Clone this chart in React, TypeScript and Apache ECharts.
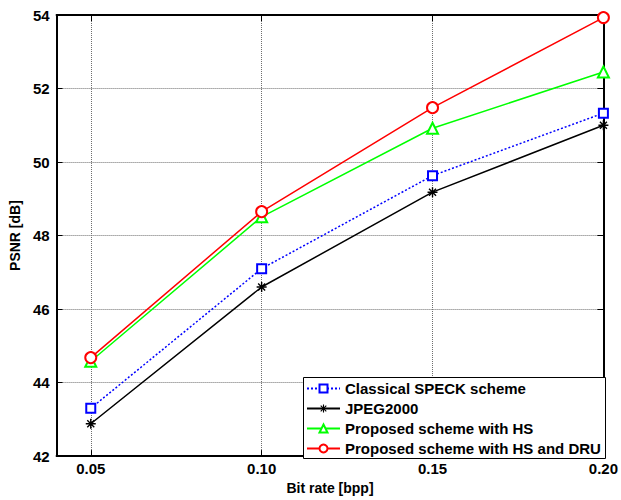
import React, { useEffect, useRef } from "react";
import * as echarts from "echarts";

// Bit rate (bpp) at which each codec was evaluated
const bitRates = [0.05, 0.1, 0.15, 0.2];
const xTickValues = [0.05, 0.1, 0.15, 0.2];

// PSNR (dB) per scheme
const speckPsnr = [43.3, 47.1, 49.63, 51.33];
const jpeg2000Psnr = [42.88, 46.6, 49.18, 51.0];
const hsPsnr = [44.58, 48.51, 50.92, 52.45];
const hsDruPsnr = [44.68, 48.65, 51.48, 53.93];

const seriesNames = [
  "Classical SPECK scheme",
  "JPEG2000",
  "Proposed scheme with HS",
  "Proposed scheme with HS and DRU",
];

// asterisk marker built from four thin bars
const ASTERISK =
  "path://M4.3 0H5.7V10H4.3Z M0 4.3H10V5.7H0Z M1.99 1.01L8.99 8.01L8.01 8.99L1.01 1.99Z M8.99 1.99L1.99 8.99L1.01 8.01L8.01 1.01Z";

const FONT = "Liberation Sans, Arial, sans-serif";

const pairs = (ys: number[]) => bitRates.map((x, i) => [x, ys[i]]);

export default function App() {
  const ref = useRef<HTMLDivElement>(null);

  useEffect(() => {
    if (!ref.current) return;
    const chart = echarts.init(ref.current, null, { renderer: "svg" });

    const gridLine = { show: true, lineStyle: { color: "#6e6e6e", width: 1, type: [1, 1] as any } };
    const boxLine = { show: true, onZero: false, lineStyle: { color: "#000", width: 2 } };
    const tickIn = { show: true, inside: true, length: 6, lineStyle: { color: "#000", width: 1 } };
    const boldText = { color: "#000", fontFamily: FONT, fontWeight: "bold" as const, fontSize: 15 };

    chart.setOption({
      animation: false,
      backgroundColor: "#fff",
      grid: { left: 51, right: 15, top: 15, bottom: 40, containLabel: false },
      xAxis: [
        {
          type: "value",
          min: 0.04,
          max: 0.2,
          position: "bottom",
          axisLine: boxLine,
          axisTick: { ...tickIn, customValues: xTickValues },
          axisLabel: {
            ...boldText,
            customValues: xTickValues,
            formatter: (v: number) => v.toFixed(2),
            margin: 5,
          },
          splitLine: gridLine,
          name: "Bit rate [bpp]",
          nameLocation: "middle",
          nameGap: 20,
          nameTextStyle: { ...boldText, fontSize: 14 },
        },
        {
          type: "value",
          min: 0.04,
          max: 0.2,
          position: "top",
          axisLine: boxLine,
          axisTick: { ...tickIn, customValues: xTickValues },
          axisLabel: { show: false },
          splitLine: { show: false },
        },
      ],
      yAxis: [
        {
          type: "value",
          min: 42,
          max: 54,
          interval: 2,
          position: "left",
          axisLine: boxLine,
          axisTick: tickIn,
          axisLabel: { ...boldText, margin: 7 },
          splitLine: gridLine,
          name: "PSNR [dB]",
          nameLocation: "middle",
          nameGap: 22,
          nameTextStyle: { ...boldText, fontSize: 14 },
        },
        {
          type: "value",
          min: 42,
          max: 54,
          interval: 2,
          position: "right",
          axisLine: boxLine,
          axisTick: tickIn,
          axisLabel: { show: false },
          splitLine: { show: false },
        },
      ],
      legend: {
        orient: "vertical",
        left: 306,
        top: 381,
        padding: 0,
        itemGap: 5,
        itemWidth: 33,
        itemHeight: 10,
        z: 10,
        textStyle: { ...boldText, lineHeight: 14 },
        data: seriesNames,
      },
      graphic: [
        {
          type: "rect",
          z: 5,
          shape: { x: 303.5, y: 377.5, width: 302, height: 81 },
          style: { fill: "#fff", stroke: "#000", lineWidth: 1 },
        },
      ],
      series: [
        {
          name: seriesNames[0],
          type: "line",
          data: pairs(speckPsnr),
          symbol: "emptyRect",
          symbolSize: 9,
          lineStyle: { color: "#0000ff", width: 1.5, type: [2, 2] },
          itemStyle: { color: "#0000ff", borderWidth: 1.5 },
        },
        {
          name: seriesNames[1],
          type: "line",
          data: pairs(jpeg2000Psnr),
          symbol: ASTERISK,
          symbolSize: 10,
          lineStyle: { color: "#000", width: 1.5 },
          itemStyle: { color: "#000" },
        },
        {
          name: seriesNames[2],
          type: "line",
          data: pairs(hsPsnr),
          symbol: "emptyTriangle",
          symbolSize: 11,
          lineStyle: { color: "#00ff00", width: 1.5 },
          itemStyle: { color: "#00ff00", borderWidth: 1.5 },
        },
        {
          name: seriesNames[3],
          type: "line",
          data: pairs(hsDruPsnr),
          symbol: "emptyCircle",
          symbolSize: 11,
          lineStyle: { color: "#ff0000", width: 1.5 },
          itemStyle: { color: "#ff0000", borderWidth: 1.5 },
        },
      ],
    });

    return () => chart.dispose();
  }, []);

  return (
    <div
      ref={ref}
      style={{ position: "fixed", left: 0, top: 0, width: 621, height: 500, background: "#fff" }}
    />
  );
}
